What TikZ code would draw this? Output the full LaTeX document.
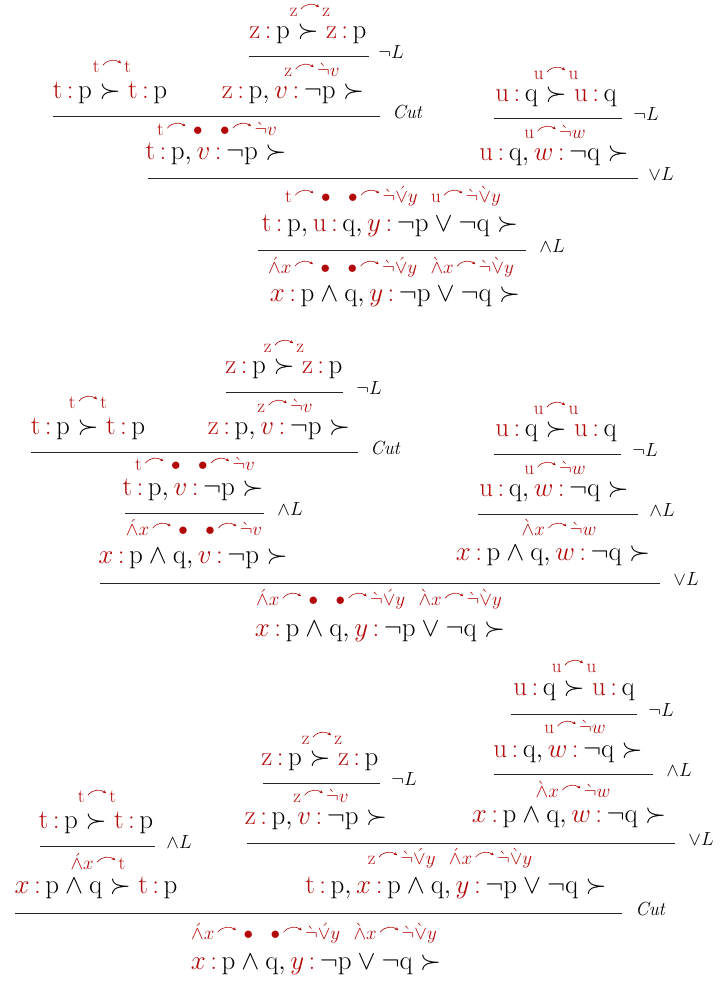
\documentclass[tikz,border=0pt]{standalone}
\usepackage{fix-cm}
\usetikzlibrary{arrows.meta}
\definecolor{myred}{rgb}{0.70,0.03,0.03}
\AtBeginDocument{\mathcode`x="0178 \mathcode`y="0179 \mathcode`v="0176 \mathcode`w="0177 }
\newcommand\lv[1]{{\color{myred}#1\,{:}\,}}
\newcommand\ca{\mathord{\,\tikz[baseline=0pt,x=1em,y=1ex]\draw[myred,line width=0.6pt,-{Stealth[length=3pt,width=3pt]}] (0,0.85) .. controls (0.25,1.6) and (0.65,1.6) .. (0.95,1.1);\,}}
\newcommand\nd{\grave{\neg}}
\newcommand\av{\acute{\vee}}
\newcommand\gv{\grave{\vee}}
\newcommand\aw{\acute{\wedge}}
\newcommand\gw{\grave{\wedge}}
\newcommand\gap{\hspace{0.7em}}
\newcommand\M[1]{$\fam0 #1$}
\begin{document}
\begin{tikzpicture}[x=1pt,y=-1pt,
  seq/.style={font=\fontsize{27}{31}\selectfont, anchor=mid, inner sep=0pt},
  ann/.style={font=\fontsize{19}{22}\selectfont, text=myred, anchor=mid, inner sep=0pt},
  rl/.style={font=\fontsize{19}{22}\selectfont, anchor=mid west, inner sep=0pt},
  rule/.style={line width=0.9pt, draw=black!85}]
\useasboundingbox (0,0) rectangle (720,981);

% ---------------- Tree 1 ----------------
\node[ann] (a1) at (310,14) {\M{z\ca z}};
\node[seq] (n1) at (308,36) {\M{\lv{z}p\succ\lv{z}p}};
\coordinate (r1a) at (249,56); \coordinate (r1b) at (369,56);
\draw[rule] (r1a) -- (r1b) node[rl,xshift=9pt] (l1) {$\neg L$};
\node[ann] (a2) at (112,70) {\M{t\ca t}};
\node[seq] (n2) at (110,96) {\M{\lv{t}p\succ\lv{t}p}};
\node[ann] (a3) at (312,74) {\M{z\ca\nd v}};
\node[seq] (n3) at (293,96) {\M{\lv{z}p,\lv{v}\neg p\succ}};
\coordinate (r2a) at (53,116); \coordinate (r2b) at (380,116);
\draw[rule] (r2a) -- (r2b) node[rl,xshift=12pt] (l2) {$\mathit{Cut}$};
\node[ann] (a4) at (217,133) {\M{t\ca\bullet\gap\bullet\ca\nd v}};
\node[seq] (n4) at (216,157) {\M{\lv{t}p,\lv{v}\neg p\succ}};
\node[ann] (a5) at (556,77) {\M{u\ca u}};
\node[seq] (n5) at (556,99) {\M{\lv{u}q\succ\lv{u}q}};
\coordinate (r3a) at (494,118); \coordinate (r3b) at (622,118);
\draw[rule] (r3a) -- (r3b) node[rl,xshift=11pt] (l3) {$\neg L$};
\node[ann] (a6) at (555,136) {\M{u\ca\nd w}};
\node[seq] (n6) at (554,158) {\M{\lv{u}q,\lv{w}\neg q\succ}};
\coordinate (r4a) at (148,178); \coordinate (r4b) at (638,178);
\draw[rule] (r4a) -- (r4b) node[rl,xshift=10pt] (l4) {$\vee L$};
\node[ann] (a7) at (393,200) {\M{t\ca\bullet\gap\bullet\ca\nd\av y\gap u\ca\nd\gv y}};
\node[seq] (n7) at (390,229) {\M{\lv{t}p,\lv{u}q,\lv{y}\neg p\vee\neg q\succ}};
\coordinate (r5a) at (258,250); \coordinate (r5b) at (526,250);
\draw[rule] (r5a) -- (r5b) node[rl,xshift=13pt] (l5) {$\wedge L$};
\node[ann] (a8) at (391,271) {\M{\aw x\ca\bullet\gap\bullet\ca\nd\av y\gap\gw x\ca\nd\gv y}};
\node[seq] (n8) at (395,299) {\M{\lv{x}p\wedge q,\lv{y}\neg p\vee\neg q\succ}};

% ---------------- Tree 2 ----------------
\node[ann] (a9) at (284,350) {\M{z\ca z}};
\node[seq] (n9) at (284,371) {\M{\lv{z}p\succ\lv{z}p}};
\coordinate (r6a) at (226,392); \coordinate (r6b) at (343,392);
\draw[rule] (r6a) -- (r6b) node[rl,xshift=13pt] (l6) {$\neg L$};
\node[ann] (a10) at (88,406) {\M{t\ca t}};
\node[seq] (n10) at (88,432) {\M{\lv{t}p\succ\lv{t}p}};
\node[ann] (a11) at (285,410) {\M{z\ca\nd v}};
\node[seq] (n11) at (279,432) {\M{\lv{z}p,\lv{v}\neg p\succ}};
\coordinate (r7a) at (31,452); \coordinate (r7b) at (358,452);
\draw[rule] (r7a) -- (r7b) node[rl,xshift=12pt] (l7) {$\mathit{Cut}$};
\node[ann] (a12) at (195,468) {\M{t\ca\bullet\gap\bullet\ca\nd v}};
\node[seq] (n12) at (193,493) {\M{\lv{t}p,\lv{v}\neg p\succ}};
\coordinate (r8a) at (125,513); \coordinate (r8b) at (264,513);
\draw[rule] (r8a) -- (r8b) node[rl,xshift=13pt] (l8) {$\wedge L$};
\node[ann] (a13) at (194,533) {\M{\aw x\ca\bullet\gap\bullet\ca\nd v}};
\node[seq] (n13) at (193,561) {\M{\lv{x}p\wedge q,\lv{v}\neg p\succ}};
\node[ann] (a14) at (556,412) {\M{u\ca u}};
\node[seq] (n14) at (556,434) {\M{\lv{u}q\succ\lv{u}q}};
\coordinate (r9a) at (494,454); \coordinate (r9b) at (621,454);
\draw[rule] (r9a) -- (r9b) node[rl,xshift=11pt] (l9) {$\neg L$};
\node[ann] (a15) at (555,472) {\M{u\ca\nd w}};
\node[seq] (n15) at (554,494) {\M{\lv{u}q,\lv{w}\neg q\succ}};
\coordinate (r10a) at (478,514); \coordinate (r10b) at (638,514);
\draw[rule] (r10a) -- (r10b) node[rl,xshift=11pt] (l10) {$\wedge L$};
\node[ann] (a16) at (559,533) {\M{\gw x\ca\nd w}};
\node[seq] (n16) at (553,558) {\M{\lv{x}p\wedge q,\lv{w}\neg q\succ}};
\coordinate (r11a) at (100,583); \coordinate (r11b) at (660,583);
\draw[rule] (r11a) -- (r11b) node[rl,xshift=13pt] (l11) {$\vee L$};
\node[ann] (a17) at (379,603) {\M{\aw x\ca\bullet\gap\bullet\ca\nd\av y\gap\gw x\ca\nd\gv y}};
\node[seq] (n17) at (380,634) {\M{\lv{x}p\wedge q,\lv{y}\neg p\vee\neg q\succ}};

% ---------------- Tree 3 ----------------
\node[ann] (a18) at (574,670) {\M{u\ca u}};
\node[seq] (n18) at (574,693) {\M{\lv{u}q\succ\lv{u}q}};
\coordinate (r12a) at (511,714); \coordinate (r12b) at (637,714);
\draw[rule] (r12a) -- (r12b) node[rl,xshift=11pt] (l12) {$\neg L$};
\node[ann] (a19) at (575,731) {\M{u\ca\nd w}};
\node[seq] (n19) at (568,755) {\M{\lv{u}q,\lv{w}\neg q\succ}};
\coordinate (r13a) at (494,774); \coordinate (r13b) at (653,774);
\draw[rule] (r13a) -- (r13b) node[rl,xshift=13pt] (l13) {$\wedge L$};
\node[ann] (a20) at (573,795) {\M{\gw x\ca\nd w}};
\node[seq] (n20) at (569,820) {\M{\lv{x}p\wedge q,\lv{w}\neg q\succ}};
\node[ann] (a21) at (322,742) {\M{z\ca z}};
\node[seq] (n21) at (320,763) {\M{\lv{z}p\succ\lv{z}p}};
\coordinate (r14a) at (263,783); \coordinate (r14b) at (380,783);
\draw[rule] (r14a) -- (r14b) node[rl,xshift=11pt] (l14) {$\neg L$};
\node[ann] (a22) at (321,800) {\M{z\ca\nd v}};
\node[seq] (n22) at (316,822) {\M{\lv{z}p,\lv{v}\neg p\succ}};
\coordinate (r15a) at (247,843); \coordinate (r15b) at (675,843);
\draw[rule] (r15a) -- (r15b) node[rl,xshift=13pt] (l15) {$\vee L$};
\node[ann] (a23) at (450,862) {\M{z\ca\nd\av y\gap\aw x\ca\nd\gv y}};
\node[seq] (n23) at (456,891) {\M{\lv{t}p,\lv{x}p\wedge q,\lv{y}\neg p\vee\neg q\succ}};
\node[ann] (a24) at (97,800) {\M{t\ca t}};
\node[seq] (n24) at (96,826) {\M{\lv{t}p\succ\lv{t}p}};
\coordinate (r16a) at (40,846); \coordinate (r16b) at (155,846);
\draw[rule] (r16a) -- (r16b) node[rl,xshift=11pt] (l16) {$\wedge L$};
\node[ann] (a25) at (98,867) {\M{\aw x\ca t}};
\node[seq] (n25) at (96,891) {\M{\lv{x}p\wedge q\succ\lv{t}p}};
\coordinate (r17a) at (15,913); \coordinate (r17b) at (622,913);
\draw[rule] (r17a) -- (r17b) node[rl,xshift=13pt] (l17) {$\mathit{Cut}$};
\node[ann] (a26) at (314,937) {\M{\aw x\ca\bullet\gap\bullet\ca\nd\av y\gap\gw x\ca\nd\gv y}};
\node[seq] (n26) at (316,967) {\M{\lv{x}p\wedge q,\lv{y}\neg p\vee\neg q\succ}};
\end{tikzpicture}
\end{document}
